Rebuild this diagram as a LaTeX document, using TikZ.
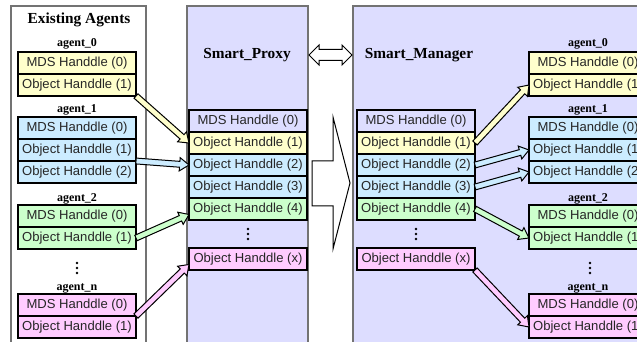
\documentclass[tikz,border=0pt]{standalone}
\usepackage{fontspec}
\setmainfont{Liberation Serif}
\setsansfont{Liberation Sans}
\usetikzlibrary{calc}

\definecolor{panelfill}{RGB}{221,221,255}
\definecolor{hyellow}{RGB}{255,255,204}
\definecolor{hblue}{RGB}{204,236,255}
\definecolor{hgreen}{RGB}{204,255,204}
\definecolor{hpink}{RGB}{255,204,255}

\tikzset{every picture/.style={line width=0.75pt}}
\tikzset{
  handle/.style={draw, line width=1.2pt, minimum width=88.5pt, minimum height=16.5pt,
    inner sep=0pt, outer sep=0pt, anchor=north west, text=black!85,
    font=\sffamily\fontsize{9.8}{11}\selectfont},
  agentlabel/.style={font=\bfseries\fontsize{9}{10}\selectfont},
  paneltitle/.style={font=\bfseries\fontsize{11.5}{13}\selectfont},
  panel/.style={draw=black!55, line width=0.9pt},
  stack/.style={draw, line width=1.8pt},
  fatline/.style={draw=black, line width=0.75pt, line join=miter},
}

% hollow block arrow: colour, from, to
\newcommand{\hollowarrow}[3]{%
  \coordinate (ha-s) at (#2);
  \coordinate (ha-e) at (#3);
  \coordinate (ha-b) at ($(ha-e)!7pt!(ha-s)$);
  \draw[fatline, fill=#1] ($(ha-s)!2.2pt!90:(ha-e)$) -- ($(ha-b)!2.2pt!-90:(ha-s)$) -- ($(ha-b)!5pt!-90:(ha-s)$) -- (ha-e) -- ($(ha-b)!5pt!90:(ha-s)$) -- ($(ha-b)!2.2pt!90:(ha-s)$) -- ($(ha-s)!2.2pt!-90:(ha-e)$) -- cycle;}

% vertical ellipsis at a point
\newcommand{\vdotsat}[2]{%
  \fill (#1,#2-5) circle (1.1pt);
  \fill (#1,#2) circle (1.1pt);
  \fill (#1,#2+5) circle (1.1pt);}

\begin{document}
\begin{tikzpicture}[x=0.75pt,y=0.75pt,yscale=-1,xscale=1]
\clip (0,0) rectangle (637,342);

%Shape: Rectangle [Existing Agents]
\draw[panel, fill=white] (11,6) rectangle (146,360);
\node[paneltitle] (agentstitle) at (79,20) {Existing Agents};
%Shape: Rectangle [Smart_Proxy]
\draw[panel, fill=panelfill] (187,6) rectangle (308,360);
\node[paneltitle] (proxytitle) at (247,55) {Smart\_Proxy};
%Shape: Rectangle [Smart_Manager]
\draw[panel, fill=panelfill] (353,6) rectangle (660,360);
\node[paneltitle, anchor=west] (managertitle) at (360,55) {Smart\_Manager};

%Shape: Double Arrow
\draw[fatline, fill=white] (309,55) -- (319,45) -- (319,49.5) -- (342,49.5) -- (342,45) -- (352,55) -- (342,65) -- (342,60.5) -- (319,60.5) -- (319,65) -- cycle;
%Shape: Right Arrow
\draw[fatline] (312,161) -- (333,161) -- (333,117) -- (350,183) -- (333,249) -- (333,206) -- (312,206) -- cycle;

%Existing agents
\node[agentlabel] (la0lab) at (77,44) {agent\_0};
\node[handle, fill=hyellow] (la0m) at (18,52) {MDS Handdle (0)};
\node[handle, fill=hyellow] (la0o1) at (18,74) {Object Handdle (1)};
\node[agentlabel] (la1lab) at (77,110) {agent\_1};
\node[handle, fill=hblue] (la1m) at (18,117) {MDS Handdle (0)};
\node[handle, fill=hblue] (la1o1) at (18,139) {Object Handdle (1)};
\node[handle, fill=hblue] (la1o2) at (18,161) {Object Handdle (2)};
\node[agentlabel] (la2lab) at (77,199) {agent\_2};
\node[handle, fill=hgreen] (la2m) at (18,205) {MDS Handdle (0)};
\node[handle, fill=hgreen] (la2o1) at (18,227) {Object Handdle (1)};
\vdotsat{77}{268}
\node[agentlabel] (lanlab) at (77,288) {agent\_n};
\node[handle, fill=hpink] (lanm) at (18,294) {MDS Handdle (0)};
\node[handle, fill=hpink] (lano1) at (18,316) {Object Handdle (1)};
\draw[stack] (la0m.north west) rectangle (la0o1.south east);
\draw[stack] (la1m.north west) rectangle (la1o2.south east);
\draw[stack] (la2m.north west) rectangle (la2o1.south east);
\draw[stack] (lanm.north west) rectangle (lano1.south east);

%Proxy handles
\node[handle, fill=panelfill] (pxm) at (189,110) {MDS Handdle (0)};
\node[handle, fill=hyellow] (px1) at (189,132) {Object Handdle (1)};
\node[handle, fill=hblue] (px2) at (189,154) {Object Handdle (2)};
\node[handle, fill=hblue] (px3) at (189,176) {Object Handdle (3)};
\node[handle, fill=hgreen] (px4) at (189,198) {Object Handdle (4)};
\vdotsat{248}{234}
\node[handle, fill=hpink] (pxx) at (189,248) {Object Handdle (x)};
\draw[stack] (pxm.north west) rectangle (px4.south east);
\draw[stack] (pxx.north west) rectangle (pxx.south east);

%Manager handles
\node[handle, fill=panelfill] (mgm) at (357,110) {MDS Handdle (0)};
\node[handle, fill=hyellow] (mg1) at (357,132) {Object Handdle (1)};
\node[handle, fill=hblue] (mg2) at (357,154) {Object Handdle (2)};
\node[handle, fill=hblue] (mg3) at (357,176) {Object Handdle (3)};
\node[handle, fill=hgreen] (mg4) at (357,198) {Object Handdle (4)};
\vdotsat{416}{234}
\node[handle, fill=hpink] (mgx) at (357,248) {Object Handdle (x)};
\draw[stack] (mgm.north west) rectangle (mg4.south east);
\draw[stack] (mgx.north west) rectangle (mgx.south east);

%Rebuilt agents
\node[agentlabel] (ra0lab) at (588,44) {agent\_0};
\node[handle, fill=hyellow] (ra0m) at (529,52) {MDS Handdle (0)};
\node[handle, fill=hyellow] (ra0o1) at (529,74) {Object Handdle (1)};
\node[agentlabel] (ra1lab) at (588,110) {agent\_1};
\node[handle, fill=hblue] (ra1m) at (529,117) {MDS Handdle (0)};
\node[handle, fill=hblue] (ra1o1) at (529,139) {Object Handdle (1)};
\node[handle, fill=hblue] (ra1o2) at (529,161) {Object Handdle (2)};
\node[agentlabel] (ra2lab) at (588,199) {agent\_2};
\node[handle, fill=hgreen] (ra2m) at (529,205) {MDS Handdle (0)};
\node[handle, fill=hgreen] (ra2o1) at (529,227) {Object Handdle (1)};
\vdotsat{590}{268}
\node[agentlabel] (ranlab) at (588,288) {agent\_n};
\node[handle, fill=hpink] (ranm) at (529,294) {MDS Handdle (0)};
\node[handle, fill=hpink] (rano1) at (529,316) {Object Handdle (1)};
\draw[stack] (ra0m.north west) rectangle (ra0o1.south east);
\draw[stack] (ra1m.north west) rectangle (ra1o2.south east);
\draw[stack] (ra2m.north west) rectangle (ra2o1.south east);
\draw[stack] (ranm.north west) rectangle (rano1.south east);

%Arrows: agents to proxy
\hollowarrow{hyellow}{la0o1.south east}{px1.west}
\hollowarrow{hblue}{la1o1.south east}{px2.west}
\hollowarrow{hgreen}{la2o1.east}{$(px4.west)!0.5!(px4.south west)$}
\hollowarrow{hpink}{lano1.north east}{$(pxx.west)!0.5!(pxx.south west)$}

%Arrows: manager to agents
\hollowarrow{hyellow}{mg1.east}{ra0o1.west}
\hollowarrow{hblue}{mg2.east}{ra1o1.west}
\hollowarrow{hblue}{mg3.east}{ra1o2.west}
\hollowarrow{hgreen}{mg4.east}{ra2o1.west}
\hollowarrow{hpink}{mgx.south east}{rano1.west}

\end{tikzpicture}
\end{document}
